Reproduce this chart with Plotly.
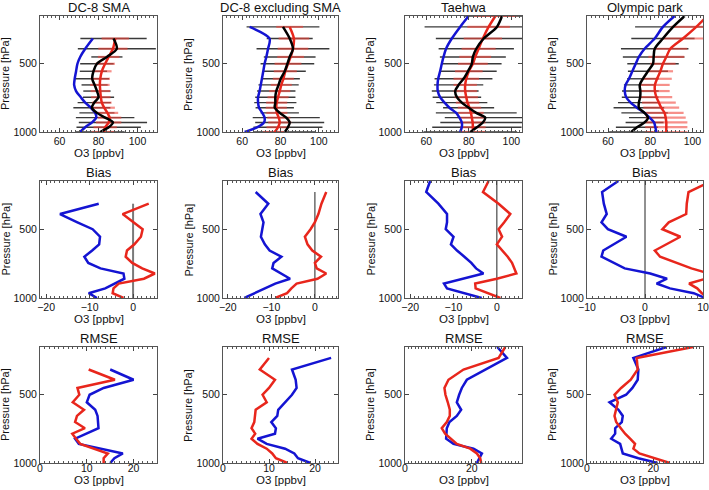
import plotly.graph_objects as go

# ---------------- data ----------------
# pressure levels (hPa), listed from the surface upward
P_SMA = [1000, 965, 930, 895, 860, 822, 785, 745, 700, 655, 610, 555, 500, 450, 390, 315]
P_EX = [1000, 965, 930, 895, 860, 822, 785, 745, 700, 655, 610, 555, 500, 450, 390, 315, 230]
P_SONDE = [1000, 965, 930, 895, 860, 822, 785, 745, 700, 655, 610, 555, 500, 450, 390, 315, 230, 150]

COLUMN_TITLES = ["DC-8 SMA", "DC-8 excluding SMA", "Taehwa", "Olympic park"]
ROW_TITLES = ["Bias", "RMSE"]

# Row 1: mean O3 profiles (ppbv)
SMA_BLUE = [70.6, 73.2, 76.6, 78.8, 78.3, 76.1, 73.2, 70.9, 68.5, 67.5, 67.8, 68.5, 69.2, 70.6, 73.2, 77.1]
SMA_RED = [82.6, 83.4, 85.2, 85.7, 84.6, 82.9, 81.7, 81.2, 80.9, 80.7, 80.9, 81.7, 83.4, 85.2, 87.4, 88.6]
SMA_OBS = [80.9, 85.2, 87.4, 83.4, 79.2, 76.6, 77.8, 80.0, 79.2, 78.0, 76.8, 77.4, 79.2, 84.3, 89.4, 87.7]
SMA_OBS_SD = [12.5, 16.5, 17.5, 15, 9, 9.5, 8.5, 8, 7, 6.7, 8.6, 7, 8.6, 8, 20, 17]
SMA_RED_SD = [6, 6, 6.5, 6, 5.5, 5.5, 5, 5, 5, 5, 5, 5, 5, 5.5, 7.5, 7]

EX_BLUE = [61.3, 68.0, 71.4, 71.7, 70.5, 68.8, 68.3, 68.3, 69.1, 69.7, 70.3, 71.0, 71.7, 72.6, 73.5, 74.3, 63.9]
EX_RED = [77.0, 78.7, 79.6, 79.1, 78.1, 77.8, 78.0, 78.7, 79.6, 80.4, 81.5, 82.5, 83.9, 85.3, 86.5, 87.0, 84.8]
EX_OBS = [82.2, 83.9, 84.8, 83.0, 79.6, 77.0, 77.3, 77.3, 77.8, 79.0, 80.1, 82.2, 83.6, 84.8, 86.5, 84.8, 81.3]
EX_OBS_SD = [16, 18, 18, 17.5, 10, 10, 11, 10.5, 10, 10.5, 10, 11, 14, 13.5, 19, 12, 19]
EX_RED_SD = [6, 6, 6, 6, 5.5, 5.5, 5.5, 5.5, 5.5, 5.5, 5.5, 6, 7, 7, 8, 8, 7]

TH_BLUE = [75.9, 76.7, 76.7, 75.6, 74.1, 70.9, 68.6, 66.5, 65.4, 65.3, 65.6, 66.5, 67.3, 68.1, 69.3, 72.0, 75.9, 79.9]
TH_RED = [81.9, 81.9, 81.8, 81.4, 81.0, 80.3, 79.4, 78.8, 78.3, 78.3, 78.8, 80.0, 81.9, 83.0, 84.6, 86.6, 89.3, 92.5]
TH_OBS = [80.7, 83.8, 86.6, 87.7, 83.5, 79.9, 76.7, 74.4, 73.6, 75.2, 77.5, 79.6, 81.4, 81.9, 83.5, 87.0, 93.2, 95.6]
TH_OBS_SD = [22, 21, 20, 19, 19, 12, 12, 11.4, 11, 11.6, 13.6, 13.5, 14, 15.5, 17.7, 22.5, 34, 18]
TH_RED_SD = [6, 6, 6, 6, 6, 5.5, 5.5, 5.5, 5.5, 5.5, 6, 6.5, 7, 7.5, 8, 9, 10, 10]

OP_BLUE = [82.9, 82.4, 81.8, 79.7, 77.3, 73.7, 70.7, 68.6, 67.9, 68.3, 69.9, 71.5, 73.1, 74.6, 77.3, 82.1, 86.0, 91.5]
OP_RED = [87.6, 87.6, 87.6, 87.3, 86.8, 85.2, 84.1, 82.9, 82.2, 82.2, 83.2, 84.8, 86.0, 87.6, 89.5, 95.5, 101.8, 107.0]
OP_OBS = [71.0, 73.7, 77.3, 78.9, 77.3, 74.6, 74.6, 75.2, 75.3, 75.0, 76.5, 78.9, 81.3, 81.6, 82.1, 86.0, 90.8, 96.3]
OP_OBS_SD = [10.5, 10, 9, 9, 11, 12, 9.9, 8.7, 8.7, 7.5, 7.5, 9.5, 12.2, 14.6, 16, 15, 18, None]
OP_RED_SD = [10, 10, 10, 9.5, 9, 8.5, 8, 7.5, 7, 7, 7, 6, 6, 8.5, 8, 9.5, 12, None]

# Row 2: bias (ppbv)
SMA_BIAS_BLUE = [-8.3, -10.2, -6.4, -4.1, -2.0, -2.2, -7.5, -10.3, -11.2, -9.4, -7.8, -7.6, -9.3, -12.8, -16.8, -7.9]
SMA_BIAS_RED = [-2.2, -4.7, -4.5, -3.3, 2.5, 5.0, 2.1, -0.2, -1.7, -1.4, 0.3, 1.8, 2.2, 0.2, -2.4, 3.6]
EX_BIAS_BLUE = [-16.2, -13.7, -11.5, -9.1, -5.7, -7.7, -9.8, -9.5, -7.7, -10.4, -11.5, -12.4, -12.1, -11.8, -12.5, -10.7, -13.6]
EX_BIAS_RED = [-9.1, -6.4, -5.4, -4.2, 0.6, 2.6, 0.4, 0.0, 1.4, -0.6, -1.7, -2.3, -1.0, 0.0, 0.8, 1.5, 2.6]
TH_BIAS_BLUE = [-3.5, -7.3, -11.5, -12.2, -7.9, -3.1, -4.8, -5.9, -7.5, -9.2, -10.6, -10.0, -11.8, -11.5, -11.5, -13.5, -16.3, -15.4]
TH_BIAS_RED = [0.8, -2.3, -4.9, -5.0, 0.0, 4.5, 4.0, 3.5, 2.5, 1.2, 0.0, 1.2, 0.4, 1.7, 3.1, 0.4, -3.2, -1.9]
OP_BIAS_BLUE = [10.4, 8.4, 4.3, 2.0, 3.8, 0.9, -3.5, -5.5, -7.5, -7.2, -5.5, -3.2, -6.4, -7.5, -6.6, -7.1, -7.4, -4.6]
OP_BIAS_RED = [11.0, 9.8, 9.0, 7.6, 10.5, 11.0, 8.0, 5.3, 2.6, 1.7, 3.8, 6.1, 3.0, 4.1, 7.1, 7.2, 7.5, 11.5]

# Row 3: RMSE (ppbv)
SMA_RMSE_BLUE = [15.0, 15.9, 17.7, 12.9, 8.3, 7.5, 10.0, 12.5, 12.4, 12.3, 11.8, 10.0, 10.6, 13.6, 20.0, 15.0]
SMA_RMSE_RED = [13.6, 13.6, 14.5, 11.4, 8.6, 7.7, 6.9, 9.6, 7.5, 7.9, 9.4, 7.0, 8.4, 8.0, 16.0, 10.4]
EX_RMSE_BLUE = [19.0, 16.3, 15.5, 13.5, 9.5, 7.5, 11.3, 11.5, 10.5, 11.8, 12.0, 13.5, 15.0, 16.0, 15.8, 15.0, 23.5]
EX_RMSE_RED = [14.0, 11.5, 10.7, 9.5, 7.5, 6.2, 7.0, 6.2, 6.8, 7.0, 7.1, 9.5, 8.6, 10.0, 11.3, 8.0, 10.0]
TH_RMSE_BLUE = [21.5, 22.3, 23.0, 20.5, 14.5, 12.3, 12.3, 12.5, 13.3, 15.5, 16.8, 15.5, 16.2, 17.0, 18.5, 24.0, 30.5, 27.6]
TH_RMSE_RED = [22.8, 22.5, 21.5, 19.5, 15.5, 13.8, 12.0, 11.0, 12.5, 13.4, 13.4, 12.8, 12.1, 11.8, 13.0, 17.5, 28.0, 30.0]
OP_RMSE_BLUE = [21.3, 15.5, 10.8, 10.5, 10.0, 7.3, 8.5, 8.5, 10.5, 10.8, 9.5, 6.8, 11.8, 13.7, 15.3, 15.5, 14.0, 24.0]
OP_RMSE_RED = [25.0, 20.5, 15.8, 14.0, 14.5, 13.0, 11.5, 10.2, 8.8, 8.3, 8.8, 9.3, 8.3, 10.3, 13.2, 15.3, 15.0, 32.0]

# ---------------- layout / style ----------------
W, H = 709, 490
COLS_PX = [(40, 157), (223, 338), (405, 522), (587, 703)]
ROWS_PX = [(16, 132), (181, 298), (347, 463)]
XRANGES = [[[50, 110], [50, 110], [50, 105], [50, 105]],
           [[-21.4, 5.5], [-21.1, 5.3], [-21.2, 5.8], [-10, 10]],
           [[0, 25], [0, 25], [0, 35], [0, 35]]]
XDTICK = [[20, 20, 20, 20], [10, 10, 10, 10], [10, 10, 20, 20]]
XMINOR = [[2, 2, 2, 2], [1, 1, 1, 1], [1, 1, 1, 1]]
XLABEL_STANDOFF = [-1, -1, -5]
XTITLE_OFFSET = [21, 21, 17]

BLUE = "#1414d2"
RED = "#e8261c"
FONT = "Liberation Sans, Arial, sans-serif"

fig = go.Figure()

levels = [P_SMA, P_EX, P_SONDE, P_SONDE]
row1 = [(SMA_BLUE, SMA_RED, SMA_OBS, SMA_OBS_SD, SMA_RED_SD),
        (EX_BLUE, EX_RED, EX_OBS, EX_OBS_SD, EX_RED_SD),
        (TH_BLUE, TH_RED, TH_OBS, TH_OBS_SD, TH_RED_SD),
        (OP_BLUE, OP_RED, OP_OBS, OP_OBS_SD, OP_RED_SD)]
row2 = [(SMA_BIAS_BLUE, SMA_BIAS_RED), (EX_BIAS_BLUE, EX_BIAS_RED),
        (TH_BIAS_BLUE, TH_BIAS_RED), (OP_BIAS_BLUE, OP_BIAS_RED)]
row3 = [(SMA_RMSE_BLUE, SMA_RMSE_RED), (EX_RMSE_BLUE, EX_RMSE_RED),
        (TH_RMSE_BLUE, TH_RMSE_RED), (OP_RMSE_BLUE, OP_RMSE_RED)]


def axis_names(r, c):
    n = r * 4 + c + 1
    s = "" if n == 1 else str(n)
    return "x" + s, "y" + s, "xaxis" + s, "yaxis" + s


def filt(centers, sds, p):
    xs, ss, ys = [], [], []
    for xv, sv, pv in zip(centers, sds, p):
        if sv is not None:
            xs.append(xv); ss.append(sv); ys.append(pv)
    return xs, ss, ys


for c in range(4):
    p = levels[c]
    blue, red, obs, obs_sd, red_sd = row1[c]
    xa, ya, _, _ = axis_names(0, c)
    bx, bs, by = filt(obs, obs_sd, p)
    fig.add_trace(go.Scatter(x=bx, y=by, mode="markers", xaxis=xa, yaxis=ya,
                             marker=dict(size=1, color="rgba(0,0,0,0)"),
                             error_x=dict(type="data", array=bs, symmetric=True, width=0,
                                          thickness=1.4, color="#3a3a3a"),
                             showlegend=False, hoverinfo="skip"))
    rx, rs, ry = filt(red, red_sd, p)
    fig.add_trace(go.Scatter(x=rx, y=ry, mode="markers", xaxis=xa, yaxis=ya,
                             marker=dict(size=1, color="rgba(0,0,0,0)"),
                             error_x=dict(type="data", array=rs, symmetric=True, width=0,
                                          thickness=2.2, color="rgba(240,70,60,0.6)"),
                             showlegend=False, hoverinfo="skip"))
    for vals, col in ((blue, BLUE), (red, RED), (obs, "black")):
        fig.add_trace(go.Scatter(x=vals, y=p, mode="lines", xaxis=xa, yaxis=ya,
                                 line=dict(color=col, width=2.5, shape="spline", smoothing=0.8),
                                 showlegend=False, hoverinfo="skip"))

for c in range(4):
    p = levels[c]
    xa, ya, _, _ = axis_names(1, c)
    zcol, zw = ("#7a7a7a", 2) if c == 0 else ("#222222", 1)
    fig.add_trace(go.Scatter(x=[0, 0], y=[p[-1], p[0]], mode="lines", xaxis=xa, yaxis=ya,
                             line=dict(color=zcol, width=zw), showlegend=False, hoverinfo="skip"))
    for vals, col in zip(row2[c], (BLUE, RED)):
        fig.add_trace(go.Scatter(x=vals, y=p, mode="lines", xaxis=xa, yaxis=ya,
                                 line=dict(color=col, width=2.5), showlegend=False, hoverinfo="skip"))
    xa, ya, _, _ = axis_names(2, c)
    for vals, col in zip(row3[c], (BLUE, RED)):
        fig.add_trace(go.Scatter(x=vals, y=p, mode="lines", xaxis=xa, yaxis=ya,
                                 line=dict(color=col, width=2.5), showlegend=False, hoverinfo="skip"))

layout = dict(width=W, height=H, margin=dict(l=0, r=0, t=0, b=0, autoexpand=False),
              paper_bgcolor="white", plot_bgcolor="white", showlegend=False,
              font=dict(family=FONT, color="#111111"))
annotations = []
for r in range(3):
    top, bot = ROWS_PX[r]
    for c in range(4):
        left, right = COLS_PX[c]
        xa, ya, xk, yk = axis_names(r, c)
        layout[xk] = dict(domain=[left / W, right / W], anchor=ya, range=XRANGES[r][c],
                          automargin=False, tick0=0, dtick=XDTICK[r][c], ticks="inside",
                          ticklen=4, tickcolor="#444", showline=True, linecolor="#555",
                          linewidth=1, mirror="allticks", showgrid=False, zeroline=False,
                          ticklabelstandoff=XLABEL_STANDOFF[r],
                          tickfont=dict(size=10.5, family=FONT, color="#111"),
                          minor=dict(ticks="inside", ticklen=2, dtick=XMINOR[r][c],
                                     tickcolor="#555", showgrid=False))
        layout[yk] = dict(domain=[1 - bot / H, 1 - top / H], anchor=xa, range=[1000, 150],
                          automargin=False, tickvals=[500, 1000], ticks="inside", ticklen=4,
                          tickcolor="#444", showline=True, linecolor="#555", linewidth=1,
                          mirror="allticks", showgrid=False, zeroline=False,
                          tickfont=dict(size=10.5, family=FONT, color="#111"))
        title = COLUMN_TITLES[c] if r == 0 else ROW_TITLES[r - 1]
        cx = (left + right) / 2 / W
        annotations.append(dict(text=title, x=cx, y=1 - (top - 8.5) / H, xref="paper", yref="paper",
                                showarrow=False, xanchor="center", yanchor="middle",
                                font=dict(size=13, family=FONT, color="#111")))
        annotations.append(dict(text="O3 [ppbv]", x=cx, y=1 - (bot + XTITLE_OFFSET[r]) / H,
                                xref="paper", yref="paper", showarrow=False, xanchor="center",
                                yanchor="middle", font=dict(size=11.5, family=FONT, color="#111")))
        annotations.append(dict(text="Pressure [hPa]", x=(left - 35) / W, y=1 - (top + bot) / 2 / H,
                                xref="paper", yref="paper", showarrow=False, textangle=-90,
                                xanchor="center", yanchor="middle",
                                font=dict(size=11, family=FONT, color="#111")))
layout["annotations"] = annotations
fig.update_layout(**layout)
fig.write_html("out.html", config={"displayModeBar": False, "staticPlot": True},
               post_script="document.body.style.margin='0px';document.body.style.overflow='hidden';")
